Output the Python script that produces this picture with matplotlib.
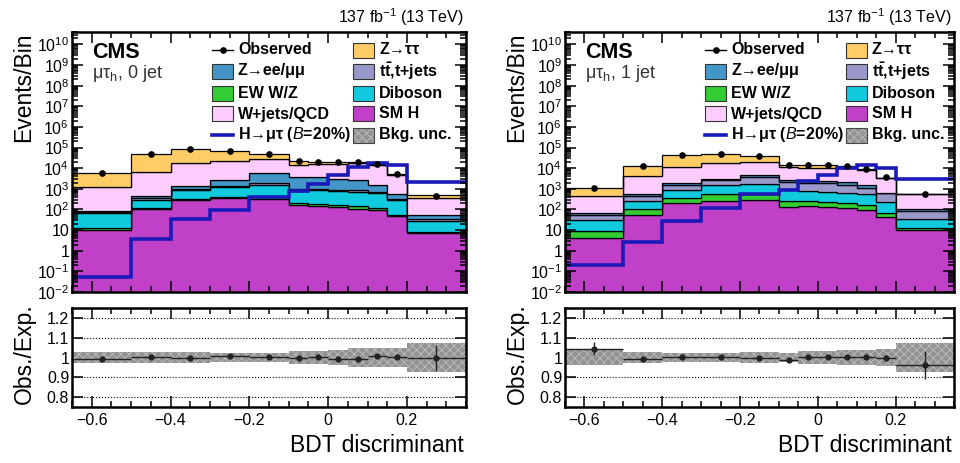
import numpy as np
import matplotlib
matplotlib.use('Agg')
import matplotlib.pyplot as plt
from matplotlib.patches import Rectangle
from matplotlib.lines import Line2D
from matplotlib.ticker import FixedLocator, LogLocator, NullFormatter, FuncFormatter, MultipleLocator

plt.rcParams['font.family'] = ['Liberation Sans', 'DejaVu Sans']
plt.rcParams['mathtext.fontset'] = 'custom'
plt.rcParams['mathtext.rm'] = 'Liberation Sans'
plt.rcParams['mathtext.it'] = 'Liberation Sans:italic'
plt.rcParams['mathtext.bf'] = 'Liberation Sans:bold'
plt.rcParams['hatch.linewidth'] = 0.6

# ---------------- data ----------------
bin_edges = [-0.65, -0.5, -0.4, -0.3, -0.2, -0.1, -0.05, 0.0, 0.05, 0.1, 0.15, 0.2, 0.35]

# 0 jet category (stack order bottom -> top)
smh_0j = [10, 104, 282, 353, 340, 162, 150, 126, 107, 93, 49, 6.9]
ew_0j = [2.9, 16, 48, 57, 70, 33, 32, 36, 38, 22, 8, 1.4]
diboson_0j = [52, 183, 540, 850, 1100, 600, 690, 630, 595, 530, 243, 20]
ttbar_0j = [9.5, 50, 130, 190, 440, 160, 130, 135, 130, 65, 40, 5]
zll_0j = [12.5, 74, 400, 1180, 3950, 2850, 2550, 2230, 1760, 790, 210, 21]
wjets_0j = [1170, 6470, 15600, 20900, 21600, 11200, 12000, 13000, 14400, 12200, 4250, 300]
ztt_0j = [4640, 41100, 70000, 41500, 21500, 7400, 4000, 3300, 2500, 1900, 600, 125]
obs_0j = [5900, 48000, 89000, 66000, 49000, 22000, 20000, 20000, 19500, 15500, 5500, 475]
signal_0j = [0.055, 3.6, 33, 94, 400, 800, 1800, 4900, 11500, 17000, 14000, 2100]
ratio_0j = [0.992, 1.002, 0.995, 1.010, 1.003, 0.995, 1.005, 0.990, 0.992, 1.008, 1.005, 0.998]
ratio_err_0j = [0.004, 0.004, 0.004, 0.004, 0.004, 0.006, 0.006, 0.006, 0.007, 0.008, 0.013, 0.065]
unc_0j = [0.028, 0.03, 0.028, 0.025, 0.025, 0.035, 0.033, 0.04, 0.048, 0.05, 0.05, 0.075]

# 1 jet category
smh_1j = [4.0, 55, 210, 270, 280, 135, 145, 126, 112, 93, 44, 10]
ew_1j = [5, 45, 170, 280, 310, 128, 118, 109, 83, 69, 21, 3]
diboson_1j = [23, 150, 490, 950, 1110, 670, 537, 475, 450, 388, 170, 20]
ttbar_1j = [22, 195, 630, 1300, 2100, 1100, 1150, 1110, 975, 570, 365, 54]
zll_1j = [17, 105, 320, 360, 1100, 600, 500, 630, 570, 380, 45, 13]
wjets_1j = [390, 3550, 9700, 14800, 15100, 8900, 8050, 8000, 7800, 7000, 2700, 450]
ztt_1j = [690, 8500, 31500, 33000, 18000, 3500, 4000, 3500, 3000, 1000, 200, 10]
obs_1j = [1150, 12600, 43000, 51000, 38000, 15000, 15000, 14000, 13000, 9600, 3550, 550]
signal_1j = [0.2, 2.7, 27, 120, 590, 870, 2400, 4900, 10400, 14000, 10400, 3160]
ratio_1j = [1.044, 0.990, 1.003, 1.003, 0.997, 0.987, 1.005, 1.002, 1.005, 1.005, 0.998, 0.963]
ratio_err_1j = [0.033, 0.009, 0.005, 0.005, 0.005, 0.008, 0.008, 0.008, 0.009, 0.010, 0.017, 0.07]
unc_1j = [0.04, 0.028, 0.025, 0.023, 0.026, 0.025, 0.035, 0.035, 0.04, 0.04, 0.045, 0.075]

process_labels = ['SM H', 'EW W/Z', 'Diboson', r'$\mathbf{t\bar{t}}$,t+jets', 'Z\u2192ee/\u03bc\u03bc',
                  'W+jets/QCD', 'Z\u2192\u03c4\u03c4']
process_colors = ['#c040c8', '#33cc33', '#12cadd', '#9999cc', '#4496c8', '#ffccff', '#ffcc66']
signal_color = '#1a1ab8'
unc_color = '#939393'
unc_hatch_color = '#bdbdbd'

W, H = 960, 463
fig = plt.figure(figsize=(W / 100, H / 100), dpi=100)


def fx(px):
    return px / W


def fy(py):
    return 1 - py / H


def log_fmt(v, pos):
    e = int(round(np.log10(v)))
    if e == 0:
        return '1'
    if e == 1:
        return '10'
    return r'$10^{%d}$' % e


def ratio_y_fmt(v, pos):
    return '1' if abs(v - 1) < 1e-9 else '%.1f' % v


def ratio_x_fmt(v, pos):
    if abs(v) < 1e-9:
        return '0'
    return ('%.1f' % v).replace('-', '\u2212')


def style_axes(ax):
    for s in ax.spines.values():
        s.set_linewidth(1.8)
    ax.tick_params(which='both', direction='in', top=True, right=True, width=1.1, labelsize=11.5)
    ax.tick_params(which='major', length=8)
    ax.tick_params(which='minor', length=4)


def draw_panel(x0, x1, comps, obs, sig, ratio, rerr, unc, cat_label):
    edges = np.array(bin_edges)
    centers = 0.5 * (edges[1:] + edges[:-1])
    halfw = 0.5 * (edges[1:] - edges[:-1])

    ax = fig.add_axes([fx(x0), fy(292), (x1 - x0) / W, 260 / H])
    ax.set_yscale('log')
    bottom = np.full(len(centers), 1e-3)
    for vals, col in zip(comps, process_colors):
        top = bottom + np.array(vals, dtype=float)
        ax.stairs(top, edges, baseline=bottom, fill=True, facecolor=col,
                  edgecolor='black', linewidth=0.9)
        bottom = top
    ax.stairs(sig, edges, baseline=None, color=signal_color, linewidth=2.6)
    obs = np.array(obs, dtype=float)
    ax.errorbar(centers, obs, yerr=np.sqrt(obs), fmt='o', ms=3.8, color='black', lw=1)
    ax.set_xlim(edges[0], edges[-1])
    ax.set_ylim(1e-2, 4e10)
    style_axes(ax)
    ax.xaxis.set_major_locator(MultipleLocator(0.2))
    ax.xaxis.set_minor_locator(MultipleLocator(0.05))
    ax.set_xticklabels([])
    ax.yaxis.set_major_locator(FixedLocator(10.0 ** np.arange(-2, 11)))
    ax.yaxis.set_major_formatter(FuncFormatter(log_fmt))
    ax.yaxis.set_minor_locator(LogLocator(base=10, subs=np.arange(2, 10) * 1.0, numticks=300))
    ax.yaxis.set_minor_formatter(NullFormatter())
    ax.tick_params(axis='y', pad=2)

    rx = fig.add_axes([fx(x0), fy(407), (x1 - x0) / W, 99 / H])
    unc = np.array(unc)
    rx.stairs(1 + unc, edges, baseline=1 - unc, fill=True, facecolor=unc_color,
              edgecolor=unc_hatch_color, hatch='xxxx', linewidth=0)
    rx.errorbar(centers, ratio, xerr=halfw, yerr=rerr, fmt='o', ms=3.5, color='#222222', lw=1)
    rx.set_xlim(edges[0], edges[-1])
    rx.set_ylim(0.75, 1.25)
    style_axes(rx)
    rx.yaxis.set_major_locator(FixedLocator([0.8, 0.9, 1.0, 1.1, 1.2]))
    rx.yaxis.set_major_formatter(FuncFormatter(ratio_y_fmt))
    rx.xaxis.set_major_locator(MultipleLocator(0.2))
    rx.xaxis.set_minor_locator(MultipleLocator(0.05))
    rx.xaxis.set_major_formatter(FuncFormatter(ratio_x_fmt))
    rx.yaxis.grid(True, linestyle=':', color='black', linewidth=0.8)
    rx.set_axisbelow(True)
    rx.tick_params(axis='x', pad=4)
    rx.tick_params(axis='y', pad=2)

    # texts
    fig.text(fx(x1 - 2), fy(17), r'137 fb$^{-1}$ (13 TeV)', ha='right', va='center', fontsize=11.5)
    fig.text(fx(x0 + 20), fy(52), 'CMS', ha='left', va='center', fontsize=15.5, fontweight='bold')
    fig.text(fx(x0 + 20), fy(73), '\u03bc\u03c4$_{\\mathrm{h}}$, ' + cat_label, ha='left', va='center',
             fontsize=13, color='#333333')
    fig.text(fx(x0 - 48), fy(32), 'Events/Bin', rotation=90, ha='center', va='top', fontsize=16.5)
    fig.text(fx(x0 - 48), fy(354), 'Obs./Exp.', rotation=90, ha='center', va='center', fontsize=16.5)
    fig.text(fx(x1 - 2), fy(446), 'BDT discriminant', ha='right', va='center', fontsize=16.5)

    # legend
    off = x0 - 72
    rows = [50, 71, 93, 114, 135]
    bw, bh = 21, 15
    col1 = [('obs', 'Observed'), (4, process_labels[4]), (1, process_labels[1]),
            (5, process_labels[5]), ('sig', 'H\u2192\u03bc\u03c4 ($\\mathit{B}$=20%)')]
    col2 = [(6, process_labels[6]), (3, process_labels[3]), (2, process_labels[2]),
            (0, process_labels[0]), ('unc', 'Bkg. unc.')]
    for colx, entries in ((212 + off, col1), (353 + off, col2)):
        for ry, (kind, lab) in zip(rows, entries):
            if kind == 'obs':
                fig.add_artist(Line2D([fx(colx), fx(colx + bw)], [fy(ry), fy(ry)], color='black', lw=1))
                fig.add_artist(Line2D([fx(colx + bw / 2)], [fy(ry)], marker='o', ms=3.8, color='black'))
            elif kind == 'sig':
                fig.add_artist(Line2D([fx(colx), fx(colx + bw)], [fy(ry), fy(ry)], color=signal_color, lw=2.6))
            elif kind == 'unc':
                fig.add_artist(Rectangle((fx(colx), fy(ry + bh / 2)), bw / W, bh / H, facecolor=unc_color,
                                         edgecolor=unc_hatch_color, hatch='xxxx', linewidth=0))
                fig.add_artist(Rectangle((fx(colx), fy(ry + bh / 2)), bw / W, bh / H, facecolor='none',
                                         edgecolor='#444444', linewidth=0.8))
            else:
                fig.add_artist(Rectangle((fx(colx), fy(ry + bh / 2)), bw / W, bh / H,
                                         facecolor=process_colors[kind], edgecolor='#333333', linewidth=0.8))
            fig.text(fx(colx + bw + 5), fy(ry), lab, ha='left', va='center', fontsize=11.5, fontweight='bold')


draw_panel(72, 466, [smh_0j, ew_0j, diboson_0j, ttbar_0j, zll_0j, wjets_0j, ztt_0j],
           obs_0j, signal_0j, ratio_0j, ratio_err_0j, unc_0j, '0 jet')
draw_panel(565, 954, [smh_1j, ew_1j, diboson_1j, ttbar_1j, zll_1j, wjets_1j, ztt_1j],
           obs_1j, signal_1j, ratio_1j, ratio_err_1j, unc_1j, '1 jet')

fig.savefig('out.png', dpi=100)
